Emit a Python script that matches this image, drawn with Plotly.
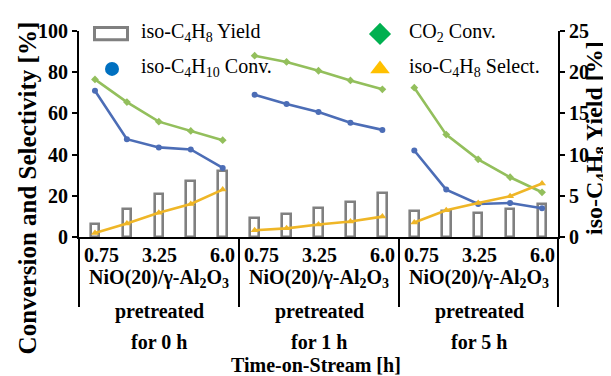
import plotly.graph_objects as go

# ---------------- data ----------------
panels = ["for 0 h", "for 1 h", "for 5 h"]
catalyst = "NiO(20)/γ-Al<sub>2</sub>O<sub>3</sub>"
times = [0.75, 2.0, 3.25, 4.5, 6.0]
tick_labels = ["0.75", "3.25", "6.0"]

yield_iso_c4h8 = [
    [1.6, 3.4, 5.2, 6.8, 8.0],
    [2.3, 2.8, 3.5, 4.3, 5.3],
    [3.1, 3.1, 2.9, 3.4, 4.0],
]
co2_conv = [
    [76.5, 65.5, 56.0, 51.5, 47.0],
    [88.0, 85.0, 80.7, 76.0, 71.7],
    [72.5, 49.7, 37.7, 29.0, 21.7],
]
iso_c4h10_conv = [
    [71.0, 47.5, 43.5, 42.5, 33.5],
    [69.0, 64.6, 60.7, 55.5, 52.0],
    [42.0, 23.0, 16.0, 16.5, 14.0],
]
iso_c4h8_select = [
    [1.9, 6.6, 11.8, 16.0, 23.0],
    [3.3, 4.2, 6.1, 7.5, 9.9],
    [7.0, 13.0, 16.5, 19.8, 26.0],
]

# ---------------- layout geometry ----------------
OFF = 8                      # page body margin
W, H = 611, 376
L, R, T, B = 79 - OFF, 558 - OFF, 25 - OFF, 237 - OFF  # plot area in figure pixels


def px_x(p):
    """screen pixel x -> paper"""
    return (p - OFF - L) / (R - L)


def px_y(p):
    """screen pixel y -> paper"""
    return (B - (p - OFF)) / (B - T)


n = len(times)
FONT = "Liberation Serif, Times New Roman, serif"


def positions():
    xs = []
    for k in range(len(panels)):
        xs += [k * n + i for i in range(n)] + [None]
    return xs


def flat(series):
    ys = []
    for s in series:
        ys += list(s) + [None]
    return ys


fig = go.Figure()

# bars (right axis, drawn underneath)
bx = [k * n + i for k in range(len(panels)) for i in range(n)]
by = [v for s in yield_iso_c4h8 for v in s]
fig.add_trace(go.Bar(
    x=bx, y=by, width=0.27, yaxis="y",
    marker=dict(color="white", line=dict(color="#808080", width=2.6)),
    showlegend=False,
))

line_specs = [
    (co2_conv, "#93BF5C", "diamond", 6),
    (iso_c4h10_conv, "#4C6DB6", "circle", 6),
    (iso_c4h8_select, "#EFB627", "triangle-up", 7),
]
for data, col, sym, sz in line_specs:
    fig.add_trace(go.Scatter(
        x=positions(), y=flat(data), yaxis="y2", mode="lines+markers",
        line=dict(color=col, width=2.6), connectgaps=False,
        marker=dict(symbol=sym, size=sz, color=col),
        showlegend=False, cliponaxis=False,
    ))

# ---------------- manual legend ----------------
leg_x = [112, 112, 380, 380]
leg_y = [28, 64, 28, 64]
leg_text = [
    "iso-C<sub>4</sub>H<sub>8</sub> Yield",
    "iso-C<sub>4</sub>H<sub>10</sub> Conv.",
    "CO<sub>2</sub> Conv.",
    "iso-C<sub>4</sub>H<sub>8</sub> Select.",
]
leg_sym = [None, "circle", "diamond", "triangle-up"]
leg_col = [None, "#0070C0", "#00B050", "#FFC000"]
leg_size = [None, 14, 17, 17]
for i in range(1, 4):
    fig.add_trace(go.Scatter(
        x=[leg_x[i] - OFF], y=[leg_y[i] - OFF], xaxis="x2", yaxis="y3", mode="markers",
        marker=dict(symbol=leg_sym[i], size=leg_size[i], color=leg_col[i]),
        showlegend=False, cliponaxis=False, hoverinfo="skip",
    ))

shapes = [
    dict(type="rect", xref="paper", yref="paper",
         x0=px_x(94.5), x1=px_x(127.5), y0=px_y(34), y1=px_y(21.5),
         line=dict(color="#808080", width=3), fillcolor="white"),
]
# category separators extending below the axis
for p in [79, 239, 399, 558]:
    shapes.append(dict(type="line", xref="paper", yref="paper",
                       x0=px_x(p), x1=px_x(p), y0=px_y(237), y1=px_y(309),
                       line=dict(color="black", width=2)))

annotations = []
for i in range(4):
    annotations.append(dict(
        xref="paper", yref="paper", x=px_x(leg_x[i] + 27), y=px_y(leg_y[i] - 1),
        text=leg_text[i], showarrow=False, xanchor="left", yanchor="middle",
        font=dict(family=FONT, size=20, color="black"),
    ))

bold = dict(family=FONT, size=20, color="black", weight="bold")
for k in range(len(panels)):
    x0 = 79 + 160 * k
    annotations += [
        dict(xref="paper", yref="paper", x=px_x(x0 + 3), y=px_y(256),
             text=tick_labels[0], showarrow=False, xanchor="left", yanchor="middle", font=bold),
        dict(xref="paper", yref="paper", x=px_x(x0 + 80), y=px_y(256),
             text=tick_labels[1], showarrow=False, xanchor="center", yanchor="middle", font=bold),
        dict(xref="paper", yref="paper", x=px_x(x0 + 158), y=px_y(256),
             text=tick_labels[2], showarrow=False, xanchor="right", yanchor="middle", font=bold),
        dict(xref="paper", yref="paper", x=px_x(x0 + 80), y=px_y(280),
             text=catalyst, showarrow=False, xanchor="center", yanchor="middle", font=bold),
        dict(xref="paper", yref="paper", x=px_x(x0 + 80), y=px_y(314),
             text="pretreated", showarrow=False, xanchor="center", yanchor="middle", font=bold),
        dict(xref="paper", yref="paper", x=px_x(x0 + 80), y=px_y(345),
             text=panels[k], showarrow=False, xanchor="center", yanchor="middle", font=bold),
    ]

annotations += [
    dict(xref="paper", yref="paper", x=px_x(316), y=px_y(369),
         text="Time-on-Stream [h]", showarrow=False, xanchor="center", yanchor="middle", font=bold),
    dict(xref="paper", yref="paper", x=px_x(27), y=px_y(187), textangle=-90,
         text="Conversion and Selectivity [%]", showarrow=False, xanchor="center", yanchor="middle",
         font=dict(family=FONT, size=25, color="black", weight="bold")),
    dict(xref="paper", yref="paper", x=px_x(596), y=px_y(135), textangle=-90,
         text="iso-C<sub>4</sub>H<sub>8</sub> Yield [%]", showarrow=False, xanchor="center", yanchor="middle",
         font=dict(family=FONT, size=24, color="black", weight="bold")),
]

tickfont = dict(family=FONT, size=20, color="black", weight="bold")
fig.update_layout(
    width=W, height=H,
    margin=dict(l=L, r=W - R, t=T, b=H - B, pad=0),
    paper_bgcolor="white", plot_bgcolor="white",
    showlegend=False,
    bargap=0,
    xaxis=dict(range=[-0.5, 3 * n - 0.5], showticklabels=False, ticks="",
               showline=True, linecolor="black", linewidth=2, showgrid=False,
               zeroline=False, fixedrange=True),
    yaxis=dict(range=[0, 25], side="right", tickvals=[0, 5, 10, 15, 20, 25],
               ticks="outside", ticklen=5, tickwidth=2, tickcolor="black",
               showline=True, linecolor="black", linewidth=2, showgrid=False,
               zeroline=False, tickfont=tickfont),
    yaxis2=dict(range=[0, 100], side="left", overlaying="y",
                tickvals=[0, 20, 40, 60, 80, 100],
                ticks="outside", ticklen=5, tickwidth=2, tickcolor="black",
                showline=True, linecolor="black", linewidth=2, showgrid=False,
                zeroline=False, tickfont=tickfont),
    xaxis2=dict(range=[L, R], overlaying="x", visible=False, fixedrange=True),
    yaxis3=dict(range=[B, T], overlaying="y", visible=False, fixedrange=True),
    shapes=shapes,
    annotations=annotations,
)

fig.write_html("out.html")
